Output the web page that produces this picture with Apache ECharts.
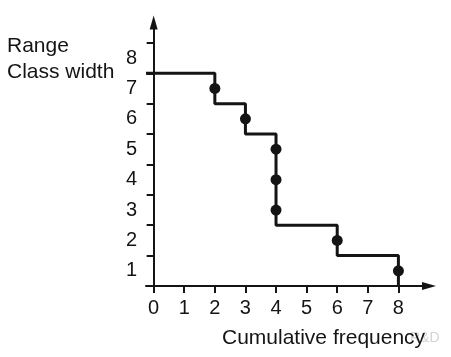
<!DOCTYPE html>
<html>
<head>
<meta charset="utf-8">
<script src="https://cdn.jsdelivr.net/npm/echarts@6/dist/echarts.min.js"></script>
<style>
html,body{margin:0;padding:0;background:#fff;}
#chart{width:451px;height:357px;}
</style>
</head>
<body>
<div id="chart"></div>
<script>
// Step outline (class boundaries): horizontal then drop at each x
const stepX = [-0.25, 2, 3, 4, 6, 8];
const stepY = [7, 6, 5, 2, 1, 0];
// Plotted points (range / class width midpoints)
const dotX = [2, 3, 4, 4, 4, 6, 8];
const dotY = [6.5, 5.5, 4.5, 3.5, 2.5, 1.5, 0.5];
// Tick labels
const xTickValues = [0, 1, 2, 3, 4, 5, 6, 7, 8];
const xTickLabels = ['0', '1', '2', '3', '4', '5', '6', '7', '8'];
const yTickValues = [1, 2, 3, 4, 5, 6, 7, 8];
const yLabelValues = [0.5, 1.5, 2.5, 3.5, 4.5, 5.5, 6.5, 7.5];
const yTickLabels = ['1', '2', '3', '4', '5', '6', '7', '8'];
const yTitle = ['Range', 'Class width'];
const xTitle = 'Cumulative frequency';

const ink = '#141414';
const font = '"Liberation Sans", Arial, sans-serif';

const chart = echarts.init(document.getElementById('chart'), null, {renderer: 'canvas'});
chart.setOption({
  animation: false,
  backgroundColor: '#fff',
  grid: {left: 146, right: 22, top: 22.5, bottom: 71, containLabel: false},
  xAxis: {
    type: 'value', min: -0.25, max: 9,
    splitLine: {show: false},
    axisLine: {onZero: true, lineStyle: {color: ink, width: 2},
      symbol: ['none', 'triangle'], symbolSize: [8, 14]},
    axisTick: {show: true, length: 7, lineStyle: {color: ink, width: 2},
      customValues: xTickValues},
    axisLabel: {customValues: xTickValues, margin: 12,
      formatter: v => xTickLabels[xTickValues.indexOf(Math.round(v))],
      color: ink, fontSize: 20, fontFamily: font}
  },
  yAxis: {
    type: 'value', min: 0, max: 8.67,
    splitLine: {show: false},
    axisLine: {onZero: true, lineStyle: {color: ink, width: 2},
      symbol: ['none', 'triangle'], symbolSize: [8, 14]},
    axisTick: {show: true, length: 7, lineStyle: {color: ink, width: 2},
      customValues: yTickValues},
    axisLabel: {customValues: yLabelValues, margin: 9,
      formatter: v => yTickLabels[yLabelValues.indexOf(v)],
      color: ink, fontSize: 20, fontFamily: font}
  },
  series: [
    {
      type: 'line', step: 'end', clip: false,
      data: stepX.map((x, i) => [x, stepY[i]]),
      showSymbol: false, symbol: 'none',
      lineStyle: {color: ink, width: 3},
      z: 3
    },
    {
      type: 'scatter', clip: false,
      data: dotX.map((x, i) => [x, dotY[i]]),
      symbol: 'circle', symbolSize: 11,
      itemStyle: {color: ink, opacity: 1},
      z: 4
    }
  ],
  graphic: [
    {type: 'text', left: 7, top: 36, style: {text: yTitle[0], font: '21px ' + font, fill: ink}},
    {type: 'text', left: 7, top: 62, style: {text: yTitle[1], font: '21px ' + font, fill: ink}},
    {type: 'text', left: 410, top: 331, z: -1, style: {text: 'R&D', font: '14px ' + font, fill: '#d4d4d4'}},
    {type: 'text', left: 222, top: 328, style: {text: xTitle, font: '21px ' + font, fill: ink}}
  ]
});
</script>
</body>
</html>
